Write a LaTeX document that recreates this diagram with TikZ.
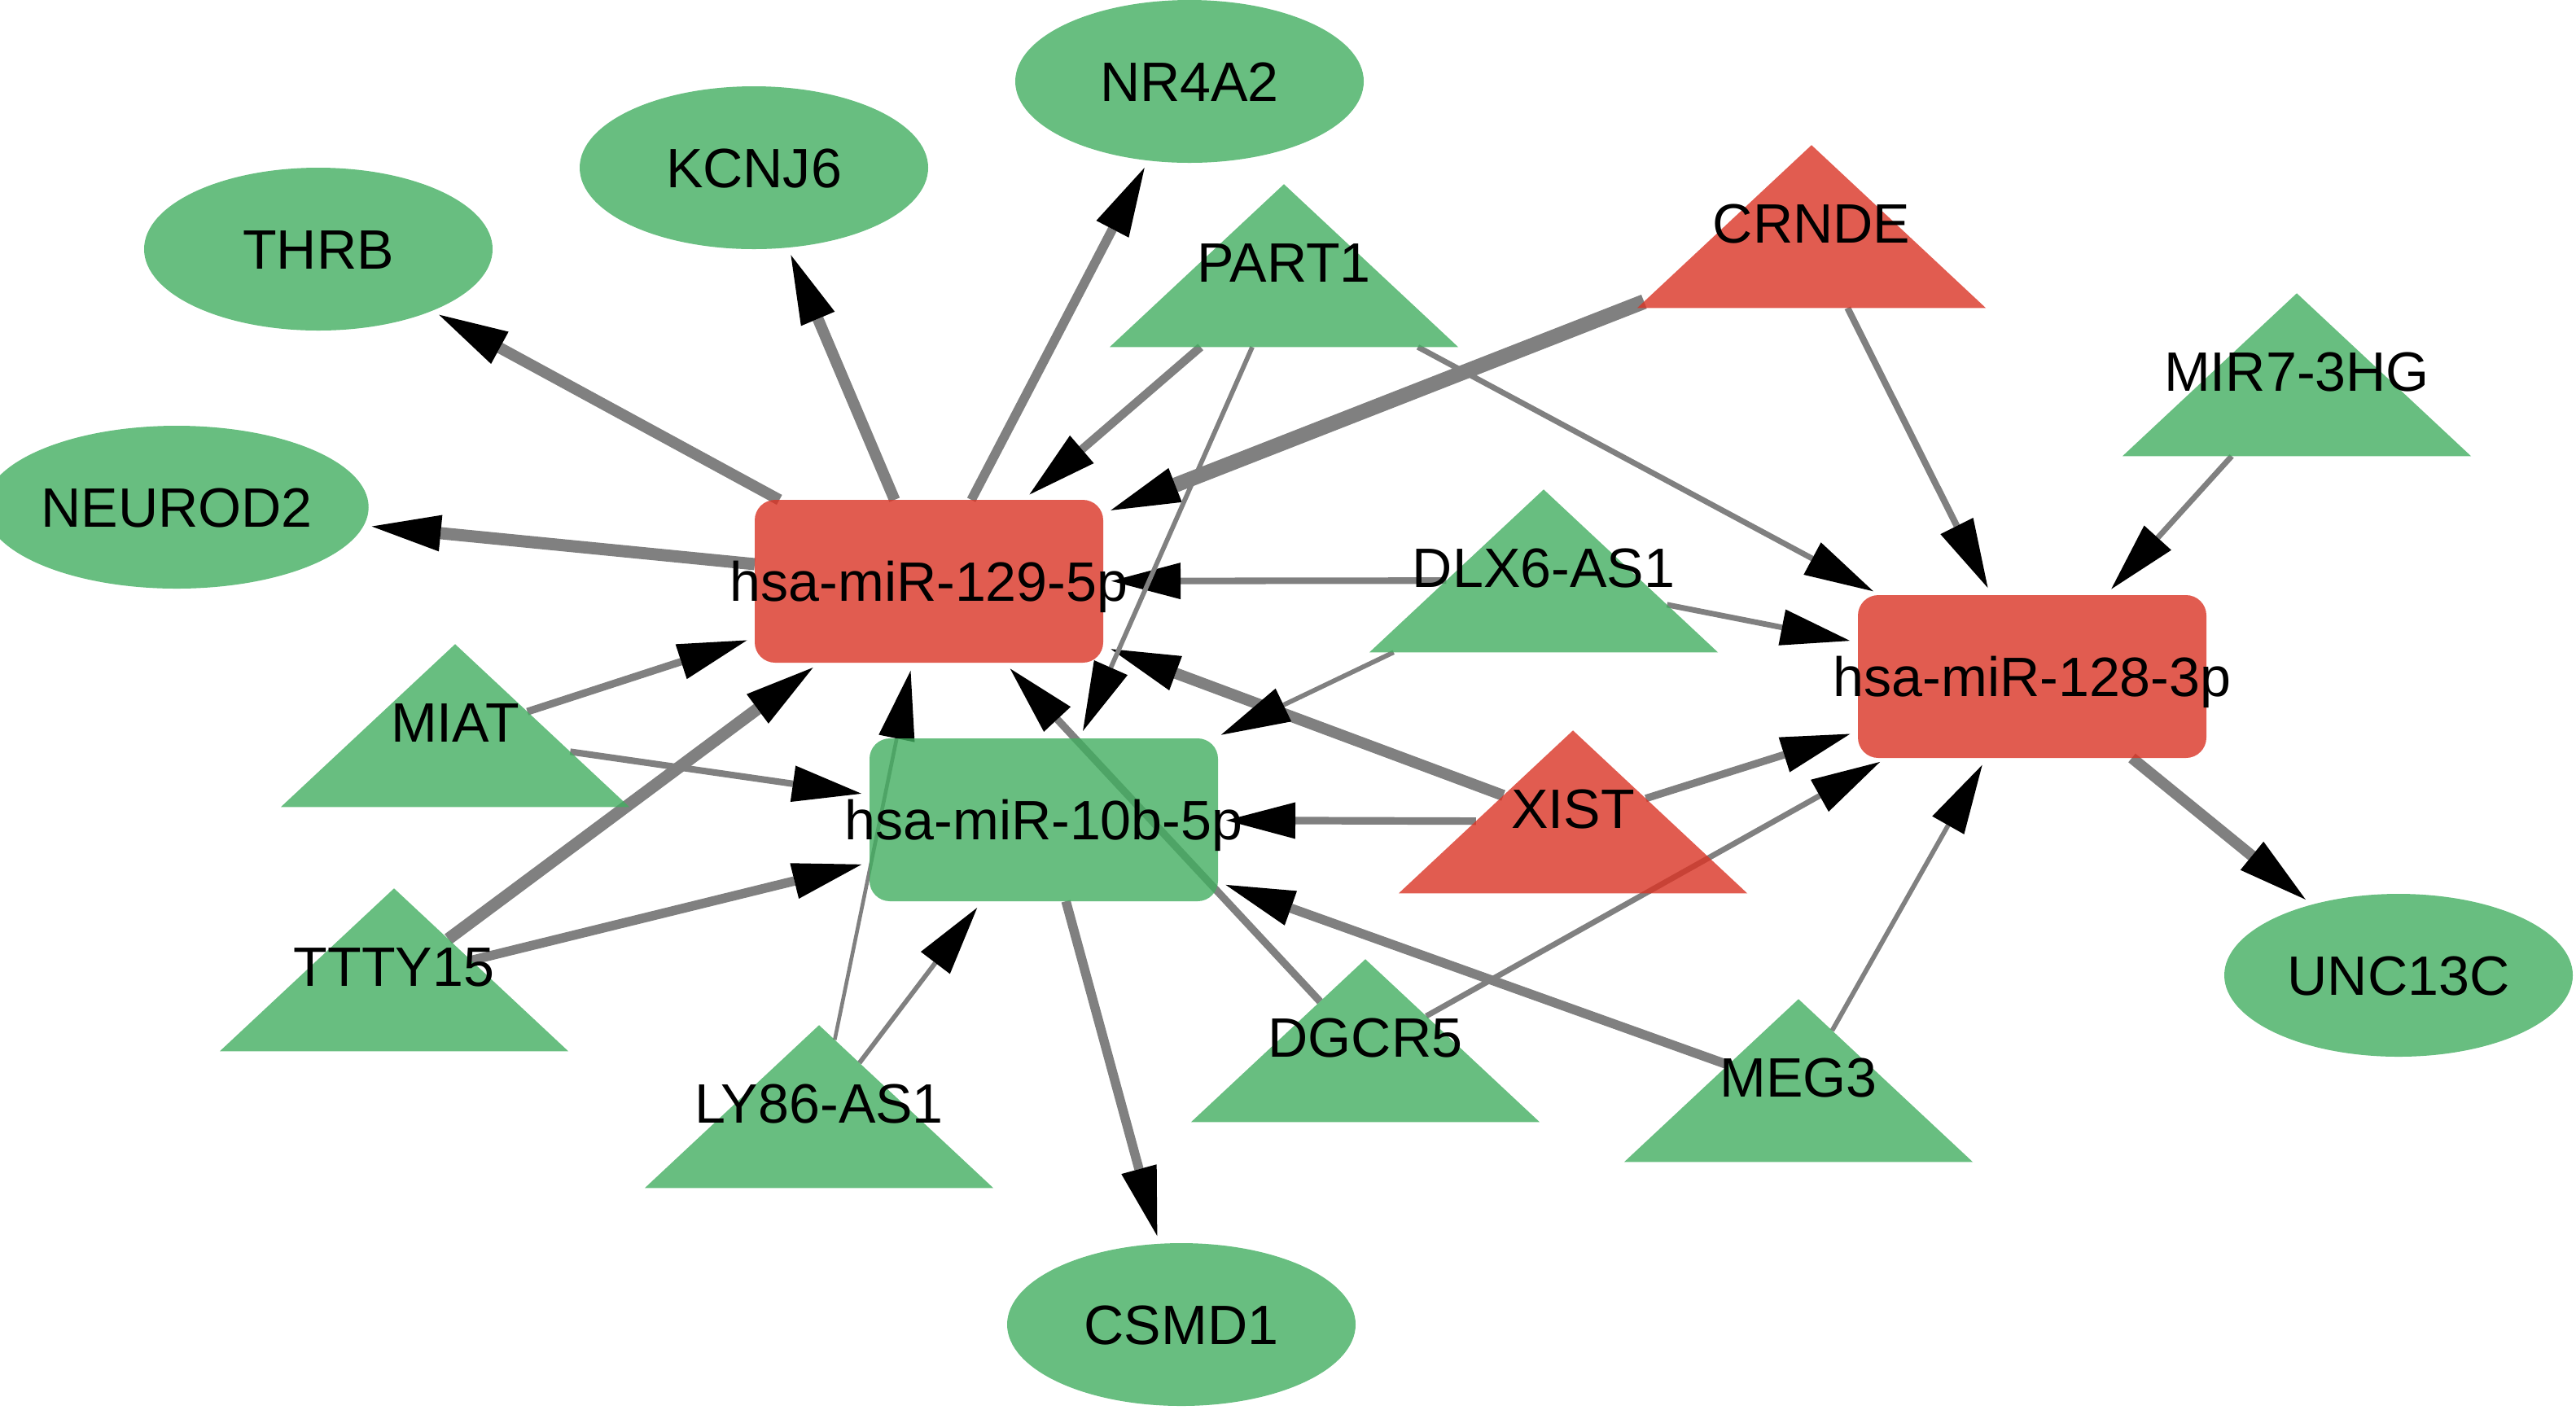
\documentclass[tikz,border=0pt]{standalone}
\usepackage{fontspec}
\setmainfont{Liberation Sans}
\usetikzlibrary{shapes.geometric,arrows.meta,backgrounds}
\definecolor{rd}{RGB}{218,51,36}
\definecolor{gr}{RGB}{66,174,96}
\definecolor{eg}{RGB}{128,128,128}
\newcommand{\lbl}[1]{\makebox[0pt]{#1}}
\newcommand{\tlbl}[1]{\raisebox{1.56mm}{\makebox[0pt]{#1}}}

\begin{document}
\begin{tikzpicture}[x=1cm,y=-1cm,inner sep=0pt,outer sep=0pt,
	font=\fontsize{19.4}{23}\selectfont,text height=13.9pt,text depth=0pt,
	mir/.style={rectangle,rounded corners=2.5mm,minimum width=4.28cm,minimum height=2cm,fill opacity=.8,text opacity=1},
	gene/.style={ellipse,fill=gr,fill opacity=.8,text opacity=1,minimum width=4.28cm,minimum height=2cm},
	lnc/.style={isosceles triangle,isosceles triangle stretches,shape border rotate=90,minimum width=4.28cm,minimum height=2cm,fill opacity=.8,text opacity=1},
	lw/.style={line width=#1*0.115mm}]
	\useasboundingbox (0,0) rectangle (31.64,17.31);
	% miRNAs
	\node[mir,fill=rd] (m129) at (11.41,7.14) {\lbl{hsa-miR-129-5p}};
	\node[mir,fill=gr] (m10b) at (12.82,10.07) {\lbl{hsa-miR-10b-5p}};
	\node[mir,fill=rd] (m128) at (24.96,8.31) {\lbl{hsa-miR-128-3p}};
	% target genes
	\node[gene] (thrb) at (3.91,3.06) {THRB};
	\node[gene] (kcnj) at (9.26,2.06) {KCNJ6};
	\node[gene] (nr4a) at (14.61,1.00) {NR4A2};
	\node[gene] (neur) at (2.17,6.23) {NEUROD2};
	\node[gene] (csmd) at (14.51,16.27) {CSMD1};
	\node[gene] (unc) at (29.46,11.98) {UNC13C};
	% lncRNAs (triangle centre sits 1.56mm below the box centre)
	\node[lnc,fill=gr] (part) at (15.77,3.38) {\tlbl{PART1}};
	\node[lnc,fill=rd] (crnd) at (22.25,2.90) {\tlbl{CRNDE}};
	\node[lnc,fill=gr] (mir7) at (28.21,4.72) {\tlbl{MIR7-3HG}};
	\node[lnc,fill=gr] (dlx) at (18.96,7.13) {\tlbl{DLX6-AS1}};
	\node[lnc,fill=gr] (miat) at (5.59,9.03) {\tlbl{MIAT}};
	\node[lnc,fill=gr] (ttty) at (4.84,12.03) {\tlbl{TTTY15}};
	\node[lnc,fill=gr] (ly86) at (10.06,13.71) {\tlbl{LY86-AS1}};
	\node[lnc,fill=rd] (xist) at (19.32,10.09) {\tlbl{XIST}};
	\node[lnc,fill=gr] (dgcr) at (16.77,12.90) {\tlbl{DGCR5}};
	\node[lnc,fill=gr] (meg) at (22.09,13.39) {\tlbl{MEG3}};
	\begin{scope}[on background layer={color=eg},shorten >=1mm,
		-{Triangle[length=8.5mm,width=4.5mm,color=black,line width=0pt]}]
	\draw[lw=12] (m129) -- (thrb);
	\draw[lw=12] (m129) -- (kcnj);
	\draw[lw=10] (m129) -- (nr4a);
	\draw[lw=13] (m129) -- (neur);
	\draw[lw=10] (m10b) -- (csmd);
	\draw[lw=12] (m128) -- (unc);
	\draw[lw=16] (crnd) -- (m129);
	\draw[lw=13] (ttty) -- (m129);
	\draw[lw=12] (xist) -- (m129);
	\draw[lw=9]  (part) -- (m129);
	\draw[lw=8]  (miat) -- (m129);
	\draw[lw=7]  (dlx)  -- (m129);
	\draw[lw=8]  (dgcr) -- (m129);
	\draw[lw=4]  (ly86) -- (m129);
	\draw[lw=5]  (part) -- (m10b);
	\draw[lw=5]  (dlx)  -- (m10b);
	\draw[lw=7]  (miat) -- (m10b);
	\draw[lw=10] (ttty) -- (m10b);
	\draw[lw=5]  (ly86) -- (m10b);
	\draw[lw=8]  (xist) -- (m10b);
	\draw[lw=10] (meg)  -- (m10b);
	\draw[lw=6]  (part) -- (m128);
	\draw[lw=7]  (crnd) -- (m128);
	\draw[lw=6]  (mir7) -- (m128);
	\draw[lw=6]  (dlx)  -- (m128);
	\draw[lw=8]  (xist) -- (m128);
	\draw[lw=6]  (dgcr) -- (m128);
	\draw[lw=5]  (meg)  -- (m128);
	\end{scope}
\end{tikzpicture}
\end{document}
